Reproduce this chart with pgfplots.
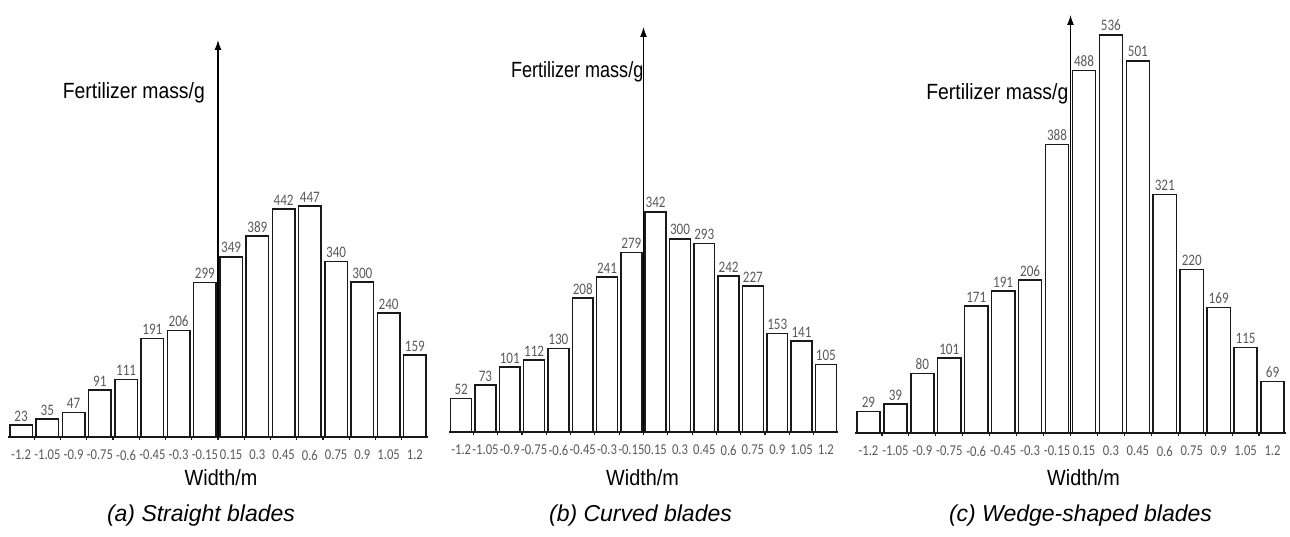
\documentclass[border=0pt]{standalone}
\usepackage{fontspec}
\setmainfont{Liberation Sans}
\newfontfamily\numfont{Carlito}
\usepackage{pgfplots}
\pgfplotsset{compat=1.18}
\usetikzlibrary{arrows.meta}

\definecolor{labelgray}{RGB}{89,89,89}
\definecolor{edge}{RGB}{25,25,25}

% one panel = 16 bars at x = 1..16, y axis is the arrow between bar 8 and 9
\pgfplotsset{
  bladepanel/.style={
    scale only axis,
    anchor=south west,
    axis x line*=bottom,
    hide y axis,
    clip=false,
    enlargelimits=false,
    xmin=0.5, xmax=16.5, ymin=0,
    xtick={1,...,16},
    xticklabels={-1.2,-1.05,-0.9,-0.75,-0.6,-0.45,-0.3,-0.15,0.15,0.3,0.45,0.6,0.75,0.9,1.05,1.2},
    major tick length=0pt,
    minor x tick num=1,
    minor tick length=3pt,
    tick align=outside,
    tick style={line width=1.2pt, edge},
    axis line style={line width=1.6pt, edge},
    xticklabel style={font=\numfont\fontsize{15}{17}\selectfont, text=labelgray,
      xscale=0.84, anchor=center, yshift=-18pt},
    ybar, bar width=0.86,
    /pgf/number format/assume math mode=true,
    nodes near coords,
    every node near coord/.append style={font=\numfont\fontsize{16}{18}\selectfont,
      text=labelgray, xscale=0.82, inner sep=3pt},
  },
  bars/.style={fill=white, draw=edge, line width=1.5pt},
}
\newcommand\axislabel{\fontsize{22}{24}\selectfont}
\newcommand\caplabel{\fontsize{23}{25}\selectfont\itshape}

\begin{document}
\begin{tikzpicture}
\path[use as bounding box] (0,0) rectangle (1290pt,536pt);

% (a) straight blades
\begin{axis}[bladepanel, width=420pt, height=397pt, ymax=769, at={(8pt,99pt)}]
  \addplot[bars] coordinates {(1,23) (2,35) (3,47) (4,91) (5,111) (6,191) (7,206) (8,299)
    (9,349) (10,389) (11,442) (12,447) (13,340) (14,300) (15,240) (16,159)};
  \draw[-{Latex[length=10pt,width=7pt]}, line width=1.3pt, black] (axis cs:8.5,0) -- (axis cs:8.5,769);
  \node[anchor=base east, xshift=-13pt, font=\axislabel, xscale=0.88, inner sep=0pt] at (axis cs:8.5,655) {Fertilizer mass/g};
  \node[xshift=3pt, yshift=-41pt, font=\axislabel, xscale=0.9, inner sep=0pt] at (axis cs:8.5,0) {Width/m};
  \node[xshift=-17pt, yshift=-79pt, font=\caplabel, inner sep=0pt] at (axis cs:8.5,0) {(a) Straight blades};
\end{axis}

% (b) curved blades
\begin{axis}[bladepanel, width=389pt, height=405pt, ymax=629, at={(449pt,104pt)}]
  \addplot[bars] coordinates {(1,52) (2,73) (3,101) (4,112) (5,130) (6,208) (7,241) (8,279)
    (9,342) (10,300) (11,293) (12,242) (13,227) (14,153) (15,141) (16,105)};
  \draw[-{Latex[length=10pt,width=7pt]}, line width=1.3pt, black] (axis cs:8.5,0) -- (axis cs:8.5,629);
  \node[anchor=base east, font=\axislabel, xscale=0.82, inner sep=0pt] at (axis cs:8.5,551) {Fertilizer mass/g};
  \node[xshift=-1pt, yshift=-46pt, font=\axislabel, xscale=0.9, inner sep=0pt] at (axis cs:8.5,0) {Width/m};
  \node[xshift=-3pt, yshift=-84pt, font=\caplabel, inner sep=0pt] at (axis cs:8.5,0) {(b) Curved blades};
\end{axis}

% (c) wedge-shaped blades
\begin{axis}[bladepanel, width=431pt, height=418pt, ymax=562.6, at={(855pt,103pt)}]
  \addplot[bars] coordinates {(1,29) (2,39) (3,80) (4,101) (5,171) (6,191) (7,206) (8,388)
    (9,488) (10,536) (11,501) (12,321) (13,220) (14,169) (15,115) (16,69)};
  \draw[-{Latex[length=10pt,width=7pt]}, line width=1.3pt, black] (axis cs:8.5,0) -- (axis cs:8.5,562.6);
  \node[anchor=base east, xshift=-2pt, font=\axislabel, xscale=0.88, inner sep=0pt] at (axis cs:8.5,449.5) {Fertilizer mass/g};
  \node[xshift=13pt, yshift=-45pt, font=\axislabel, xscale=0.9, inner sep=0pt] at (axis cs:8.5,0) {Width/m};
  \node[xshift=10pt, yshift=-83pt, font=\caplabel, inner sep=0pt] at (axis cs:8.5,0) {(c) Wedge-shaped blades};
\end{axis}
\end{tikzpicture}
\end{document}
